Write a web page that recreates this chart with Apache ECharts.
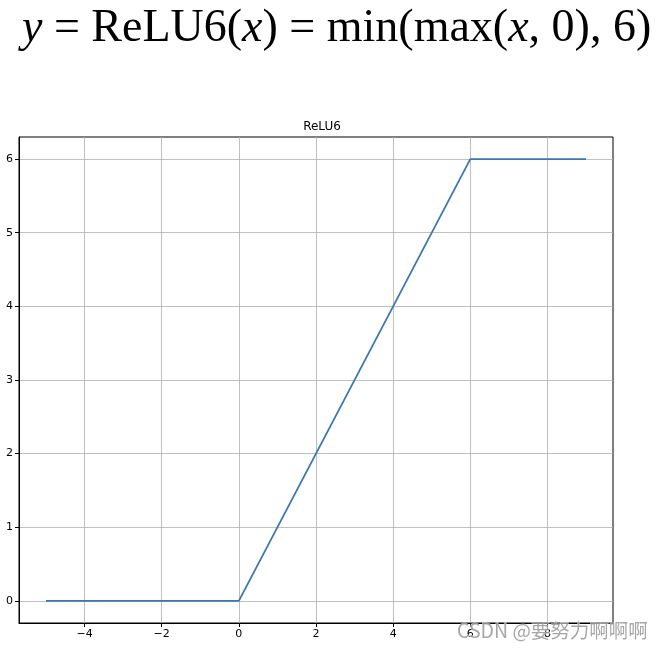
<!DOCTYPE html>
<html><head><meta charset="utf-8">
<script src="https://cdn.jsdelivr.net/npm/echarts@6/dist/echarts.min.js"></script>
<style>html,body{margin:0;padding:0;background:#fff}#c{width:665px;height:651px}</style>
</head><body><div id="c"></div>
<script>
// data: key points of ReLU6 over x in [-5, 9]
const xValues = [-5, 0, 6, 9];
const yValues = [0, 0, 6, 6];
const xTicks = [-4, -2, 0, 2, 4, 6, 8];
const yTicks = [0, 1, 2, 3, 4, 5, 6];
const chartTitle = 'ReLU6';
const watermark = 'CSDN @要努力啊啊啊';

const chart = echarts.init(document.getElementById('c'));
const lineData = xValues.map((x, i) => [x, yValues[i]]);
const axisCommon = {
  axisLine: {show: true, onZero: false, lineStyle: {color: '#000', width: 1}},
  axisTick: {show: true, length: 4, lineStyle: {color: '#000', width: 1}},
  splitLine: {show: true, lineStyle: {color: '#b0b0b0', width: 0.8}},
  axisLabel: {color: '#000', fontFamily: 'DejaVu Sans', fontSize: 11, margin: 6}
};
chart.setOption({
  animation: false,
  title: {text: chartTitle, left: 317, top: 116, textAlign: 'center',
    textStyle: {fontFamily: 'DejaVu Sans', fontSize: 12, fontWeight: 'normal', color: '#000'}},
  grid: {left: 19, top: 137, right: 52, bottom: 28, show: true, borderColor: '#000', borderWidth: 1, containLabel: false},
  xAxis: Object.assign({}, axisCommon, {
    type: 'value', min: -5.7, max: 9.7,
    axisTick: Object.assign({}, axisCommon.axisTick, {customValues: xTicks}),
    axisLabel: Object.assign({}, axisCommon.axisLabel, {customValues: xTicks, formatter: v => v < 0 ? '\u2212' + Math.abs(v) : String(v)})
  }),
  yAxis: Object.assign({}, axisCommon, {
    type: 'value', min: -0.3, max: 6.3,
    axisTick: Object.assign({}, axisCommon.axisTick, {customValues: yTicks}),
    axisLabel: Object.assign({}, axisCommon.axisLabel, {customValues: yTicks})
  }),
  series: [{type: 'line', data: lineData, symbol: 'none', lineStyle: {color: '#3b78b1', width: 1.8}}],
  graphic: [
    {type: 'text', x: 22, y: 6, style: {
      text: '{i|y} = ReLU6({i|x}) = min(max({i|x}, 0), 6)',
      font: '46px "Liberation Serif"', fill: '#000', verticalAlign: 'top', align: 'left',
      rich: {i: {fontStyle: 'italic', fontFamily: 'Liberation Serif', fontSize: 46, fill: '#000'}}
    }},
    {type: 'text', x: 457, y: 621, z: 100, style: {
      text: watermark, font: '19.5px "Noto Sans CJK SC"', fill: 'rgba(150,150,150,0.85)',
      stroke: 'rgba(255,255,255,0.6)', lineWidth: 1, verticalAlign: 'top', align: 'left'
    }}
  ]
});
</script></body></html>
